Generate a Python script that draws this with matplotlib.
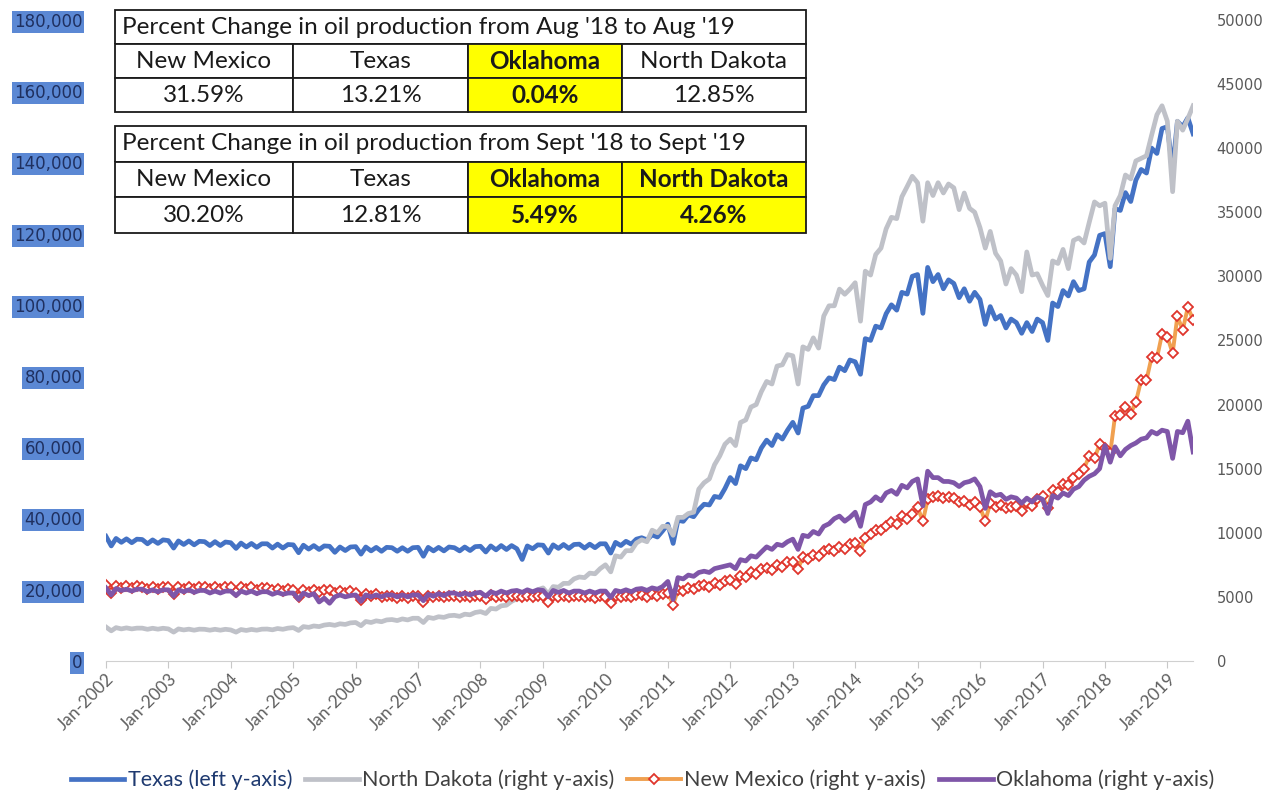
import pandas as pd
import matplotlib
matplotlib.use('Agg')
import matplotlib.pyplot as plt
import matplotlib.dates as mdates

# Monthly production, Jan 2002 - Jun 2019
texas = [
    35000, 32300, 34400, 33300, 34300, 33200, 34200, 34100, 32900, 34000, 33000, 34000,
    33800, 31700, 33700, 32700, 33700, 32600, 33600, 33500, 32400, 33500, 32400, 33400,
    33200, 31600, 33100, 32000, 33000, 31900, 32900, 32900, 31700, 32800, 31700, 32700,
    32600, 30400, 32500, 31400, 32400, 31300, 32300, 32200, 30500, 32000, 31000, 32000,
    32100, 30000, 32000, 30900, 31900, 30800, 31900, 31800, 30800, 31800, 30800, 31800,
    31900, 29400, 31900, 30900, 31900, 30900, 32000, 31800, 30900, 32000, 31000, 32100,
    32200, 30600, 32300, 31200, 32400, 31300, 32400, 31500, 28500, 32300, 31500, 32600,
    32500, 30300, 32600, 31600, 32700, 31600, 32700, 32800, 31700, 32800, 31800, 32900,
    32900, 30300, 33300, 32400, 33600, 32800, 34200, 34600, 34000, 35400, 34800, 36500,
    38400, 33000, 39500, 39200, 41000, 40500, 42500, 44000, 43800, 46200, 45900, 48400,
    51500, 49800, 54800, 54000, 57000, 56500, 59800, 62000, 60500, 63500, 62300, 64800,
    67000, 64000, 71000, 71500, 74500, 74500, 77500, 79500, 79000, 82500, 81500, 84500,
    84000, 80500, 90500, 90000, 94000, 93500, 97500, 100000, 98500, 103500, 103000, 108000,
    108500, 97600, 110500, 106500, 108500, 104500, 107000, 106000, 102000, 104500, 101000, 103500,
    101500, 94500, 99500, 96000, 97000, 93500, 96000, 95000, 92000, 95000, 92500, 96000,
    95000, 90000, 100500, 99500, 104000, 102500, 106500, 104000, 104500, 112000, 114000, 119500,
    120000, 110700, 127000, 126500, 131500, 129000, 135000, 138000, 137000, 144000, 142500, 149500,
    150000, 138000, 151500, 150000, 152500, 148000,
]

north_dakota = [
    2650, 2350, 2600, 2500, 2580, 2500, 2560, 2560, 2470, 2550, 2480, 2550,
    2500, 2250, 2500, 2420, 2480, 2400, 2480, 2470, 2400, 2470, 2400, 2470,
    2420, 2250, 2450, 2380, 2460, 2400, 2480, 2490, 2430, 2530, 2470, 2560,
    2600, 2380, 2680, 2620, 2730, 2680, 2800, 2850, 2780, 2900, 2850, 2970,
    3000, 2750, 3080, 3000, 3130, 3060, 3200, 3230, 3150, 3280, 3200, 3330,
    3330, 3000, 3400, 3320, 3450, 3400, 3530, 3560, 3480, 3650, 3600, 3780,
    3850, 3700, 4100, 4050, 4300, 4350, 4650, 4850, 4850, 5250, 5300, 5550,
    5700, 5200, 5800, 5750, 6050, 6050, 6400, 6550, 6500, 6850, 6800, 7200,
    7500, 6950, 8200, 8100, 8600, 8600, 9200, 9450, 9300, 10200, 10000, 10500,
    10500, 9800, 11200, 11200, 11500, 11600, 13400, 13900, 14200, 15300, 16000, 16900,
    17300, 16800, 18600, 18800, 19800, 20000, 21000, 21800, 21600, 23000, 23100, 23900,
    23800, 21600, 24500, 24300, 25200, 24400, 26900, 27700, 27700, 29000, 28600, 29000,
    29500, 26500, 30400, 30100, 31700, 32200, 33700, 34600, 34500, 36200, 37000, 37800,
    37300, 34300, 37300, 36300, 37300, 36500, 37200, 36900, 35200, 36500, 35300, 35000,
    33800, 32200, 33500, 31800, 31200, 29400, 30600, 30100, 28800, 31900, 30100, 30200,
    29300, 28500, 31200, 31000, 32100, 30600, 32800, 33000, 32600, 34200, 35800, 35500,
    35700, 31400, 35500, 36300, 37900, 37600, 39000, 39200, 39400, 41000, 42600, 43300,
    42100, 36600, 42100, 41400, 42300, 43300,
]

new_mexico = [
    5900, 5300, 5850, 5700, 5850, 5700, 5850, 5800, 5650, 5800, 5600, 5750,
    5750, 5250, 5800, 5650, 5800, 5650, 5800, 5800, 5600, 5800, 5600, 5750,
    5750, 5400, 5800, 5600, 5750, 5550, 5700, 5700, 5500, 5650, 5450, 5600,
    5550, 5000, 5550, 5400, 5550, 5350, 5500, 5500, 5300, 5450, 5300, 5450,
    5300, 4750, 5250, 5050, 5200, 5000, 5100, 5100, 4900, 5050, 4900, 5050,
    5050, 4600, 5100, 4950, 5100, 4950, 5100, 5100, 4950, 5100, 4950, 5100,
    5100, 4800, 5150, 4950, 5100, 4950, 5100, 5100, 4950, 5100, 4950, 5100,
    5100, 4600, 5100, 4950, 5100, 4950, 5100, 5100, 4950, 5050, 4900, 5050,
    5000, 4550, 5050, 4950, 5100, 4950, 5150, 5150, 5000, 5200, 5050, 5250,
    5300, 4400, 5500, 5450, 5700, 5600, 5850, 5950, 5800, 6050, 5950, 6200,
    6300, 6000, 6650, 6550, 6900, 6800, 7150, 7250, 7100, 7500, 7350, 7700,
    7700, 7200, 8100, 7950, 8300, 8150, 8600, 8750, 8600, 8900, 8750, 9100,
    9200, 8600, 9600, 9900, 10200, 10200, 10500, 10800, 10700, 11300, 11100, 11500,
    12000, 10900, 12600, 12800, 12900, 12700, 12800, 12700, 12400, 12500, 12200, 12400,
    12000, 10900, 12300, 12000, 12200, 11900, 12000, 12100, 11700, 12300, 12100, 12600,
    12900, 11900, 13300, 13200, 13800, 13700, 14300, 14600, 15000, 16000, 15800, 16900,
    16600, 16200, 19100, 19200, 19800, 19300, 20200, 21900, 21900, 23700, 23600, 25500,
    25300, 24000, 26900, 25800, 27600, 26600,
]

oklahoma = [
    5700, 5150, 5650, 5500, 5600, 5450, 5600, 5600, 5400, 5550, 5400, 5550,
    5550, 5050, 5550, 5400, 5550, 5350, 5500, 5500, 5300, 5450, 5300, 5450,
    5450, 5100, 5450, 5300, 5450, 5250, 5400, 5400, 5200, 5350, 5200, 5300,
    5300, 4800, 5300, 5100, 5250, 4600, 4900, 4500, 5000, 5150, 5000, 5100,
    5150, 4650, 5150, 5000, 5150, 5000, 5150, 5150, 5000, 5150, 5000, 5150,
    5150, 4700, 5200, 5050, 5250, 5100, 5300, 5300, 5150, 5300, 5150, 5300,
    5350, 5050, 5400, 5250, 5450, 5300, 5450, 5500, 5350, 5550, 5400, 5550,
    5500, 5000, 5500, 5350, 5500, 5300, 5450, 5450, 5300, 5450, 5300, 5450,
    5450, 4950, 5500, 5400, 5550, 5400, 5600, 5650, 5500, 5700, 5600, 5800,
    6200, 4800, 6500, 6400, 6700, 6600, 6900, 7000, 6900, 7200, 7300, 7400,
    7500, 7200, 7900, 7800, 8200, 8100, 8500, 8900, 8700, 9100, 9000, 9300,
    9500, 8700, 9800, 9700, 10100, 9900, 10500, 10700, 11100, 11300, 10900, 11200,
    11600, 10500, 12200, 12400, 12800, 12500, 13100, 13300, 13000, 13700, 13500, 14000,
    14200, 12100, 14800, 14300, 14300, 14000, 14000, 13900, 13600, 13900, 14000, 14200,
    13600, 11900, 13200, 12900, 13000, 12600, 12800, 12700, 12300, 12700, 12400, 12800,
    12600, 11500, 12900, 12700, 13100, 12900, 13400, 13600, 14100, 14400, 14600, 15000,
    16800, 15500, 16700, 16000, 16500, 16800, 17000, 17300, 17400, 17900, 17700, 18000,
    17900, 15800, 17900, 17800, 18700, 16300,
]

states = ['New Mexico', 'Texas', 'Oklahoma', 'North Dakota']
aug_title = "Percent Change in oil production from Aug '18 to Aug '19"
aug_change = ['31.59%', '13.21%', '0.04%', '12.85%']
aug_highlight = ['Oklahoma']
sep_title = "Percent Change in oil production from Sept '18 to Sept '19"
sep_change = ['30.20%', '12.81%', '5.49%', '4.26%']
sep_highlight = ['Oklahoma', 'North Dakota']

months = pd.date_range('2002-01-01', periods=len(texas), freq='MS')

fig = plt.figure(figsize=(12.72, 7.95), dpi=100)
fig.subplots_adjust(left=0.0833, right=0.938, bottom=0.1686, top=0.975)
ax1 = fig.add_subplot(111)
ax2 = ax1.twinx()

l1, = ax1.plot(months, texas, color='#4472c4', lw=3.4, label='Texas (left y-axis)')
l2, = ax2.plot(months, north_dakota, color='#bfc1c8', lw=3.4,
               label='North Dakota (right y-axis)')
l3, = ax2.plot(months, new_mexico, color='#f0a050', lw=2.8, marker='D', ms=4.8,
               mfc='white', mec='#e0352c', mew=1.3, label='New Mexico (right y-axis)')
l4, = ax2.plot(months, oklahoma, color='#7f56a8', lw=3.4,
               label='Oklahoma (right y-axis)')

ax1.set_xlim(months[0], months[-1])
ax1.set_ylim(0, 180000)
ax2.set_ylim(0, 50000)
ax1.set_yticks(range(0, 180001, 20000))
ax2.set_yticks(range(0, 50001, 5000))
ax1.yaxis.set_major_formatter(matplotlib.ticker.StrMethodFormatter('{x:,.0f}'))

years = pd.date_range('2002-01-01', '2019-01-01', freq='YS')
ax1.set_xticks(years)
ax1.xaxis.set_major_formatter(mdates.DateFormatter('%b-%Y'))

for ax in (ax1, ax2):
    for s in ax.spines.values():
        s.set_visible(False)
ax1.spines['bottom'].set_visible(True)
ax1.spines['bottom'].set_color('#d0d0d0')

ax1.tick_params(axis='x', length=5, color='#c8c8c8', labelcolor='#606060', pad=2)
ax1.tick_params(axis='y', length=0, pad=17, labelsize=12, labelcolor='#1f3060')
ax2.tick_params(axis='y', length=0, pad=17, labelsize=10.5, labelcolor='#595959')
for lab in ax1.get_xticklabels():
    lab.set_rotation(45)
    lab.set_ha('right')
    lab.set_rotation_mode('anchor')
    lab.set_family('Lato')
    lab.set_fontsize(12.5)
for lab in ax1.get_yticklabels():
    lab.set_bbox(dict(facecolor='#5b88d4', edgecolor='none', pad=1.5))

leg = fig.legend(handles=[l1, l2, l3, l4], loc='center', bbox_to_anchor=(0.505, 0.019),
                 ncol=4, frameon=False, handlelength=2.5, handletextpad=0.15,
                 columnspacing=0.6, numpoints=1, prop={'family': 'Lato', 'size': 15.5})
for i, t in enumerate(leg.get_texts()):
    t.set_color('#1f3a70' if i == 0 else '#404040')

col_widths = [178, 175, 154, 184]


def draw_table(rect, title, values, highlight):
    tax = fig.add_axes(rect)
    tax.axis('off')
    cells = [['', '', '', ''], states, values]
    colours = [['white'] * 4]
    for _ in range(2):
        colours.append(['#ffff00' if s in highlight else 'white' for s in states])
    tbl = tax.table(cellText=cells, cellColours=colours, colWidths=col_widths,
                    cellLoc='center', bbox=[0, 0, 1, 1])
    tbl.auto_set_font_size(False)
    for (r, c), cell in tbl.get_celld().items():
        cell.set_edgecolor('#1a1a1a')
        cell.set_linewidth(1.3)
        txt = cell.get_text()
        txt.set_fontfamily('Lato')
        txt.set_fontsize(17.5)
        txt.set_color('#1a1a1a')
        if r == 0:
            cell.visible_edges = 'BLT' if c == 0 else ('BRT' if c == 3 else 'BT')
        elif states[c] in highlight:
            txt.set_fontweight('bold')
    tax.text(0.01, 5 / 6, title, transform=tax.transAxes, ha='left', va='center',
             family='Lato', fontsize=17.5, color='#1a1a1a', zorder=5)


draw_table([0.0904, 0.8591, 0.5432, 0.1283], aug_title, aug_change, aug_highlight)
draw_table([0.0904, 0.7069, 0.5432, 0.1346], sep_title, sep_change, sep_highlight)

fig.savefig('out.png', dpi=100)
